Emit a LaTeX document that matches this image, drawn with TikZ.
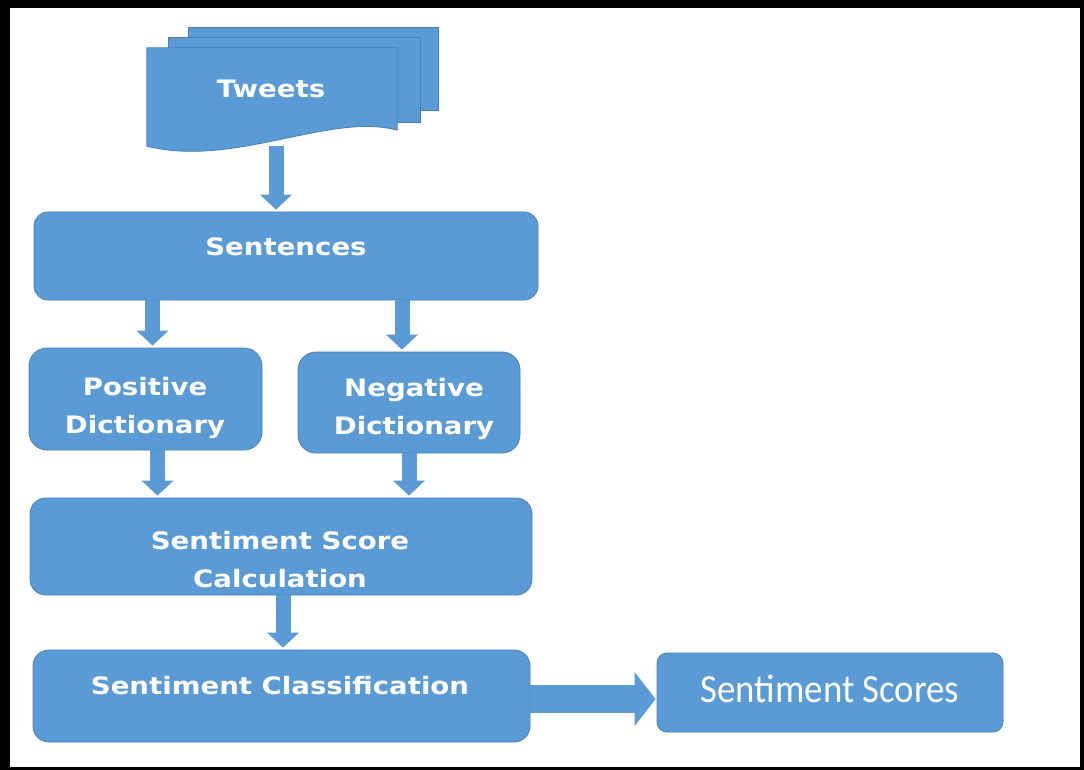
\documentclass[tikz,border=0pt]{standalone}
\usepackage{fontspec}
\usetikzlibrary{arrows.meta}
\newfontfamily\labelfont{DejaVu Sans}[FakeStretch=1.15]
\newfontfamily\scorefont{Carlito}[FakeStretch=0.92]
\definecolor{boxblue}{HTML}{5B9BD5}
\definecolor{edgeblue}{HTML}{477FB8}

\begin{document}
\begin{tikzpicture}[x=1pt,y=-1pt,
  box/.style={fill=boxblue, draw=edgeblue, line width=0.8pt, inner sep=0pt},
  doc/.style={fill=boxblue, draw=edgeblue, line width=0.8pt},
  txt/.style={text=white, inner sep=0pt, align=center,
    font={\labelfont\bfseries\fontsize{24}{38}\selectfont}},
  flow/.style={draw=boxblue, line width=15pt, shorten >=2pt,
    -{Triangle[width=32pt,length=15pt,line width=0pt]}},
  wideflow/.style={draw=boxblue, line width=28pt, shorten >=1pt,
    -{Triangle[width=54pt,length=21pt,line width=0pt]}},
]
\useasboundingbox (0,0) rectangle (1084,770);
% frame
\fill[black] (0,0) rectangle (1084,770);
\fill[white] (10,8) rectangle (1080,767);

% stacked tweet documents
\filldraw[doc] (188,27) rectangle (438,110);
\filldraw[doc] (168,37) rectangle (420,122);
\node[inner sep=0pt, minimum width=250pt, minimum height=98pt] (tw) at (272,97) {};
\filldraw[doc] (tw.north west) -- (tw.north east) -- ([yshift=16pt]tw.south east)
  .. controls (330,112) and (235,168) .. (tw.south west) -- cycle;
\node[txt] (tw-t) at (271,88.5) {Tweets};

% process boxes
\node[box, rounded corners=14pt, minimum width=504pt, minimum height=88pt] (sent) at (286,256) {};
\node[txt] (sent-t) at (286,246.5) {Sentences};

\node[box, rounded corners=18pt, minimum width=233pt, minimum height=102pt] (pos) at (145.5,399) {};
\node[txt] (pos-t) at (145,408) {Positive\\Dictionary};

\node[box, rounded corners=18pt, minimum width=222pt, minimum height=101pt] (neg) at (409,402.5) {};
\node[txt] (neg-t) at (414,409) {Negative\\Dictionary};

\node[box, rounded corners=16pt, minimum width=502pt, minimum height=97pt] (score) at (281,546.5) {};
\node[txt] (score-t) at (280,560) {Sentiment Score\\Calculation};

\node[box, rounded corners=16pt, minimum width=497pt, minimum height=92pt] (class) at (281.5,696) {};
\node[txt] (class-t) at (280,686) {Sentiment Classification};

\node[box, rounded corners=10pt, minimum width=346pt, minimum height=79pt] (scores) at (830,692.5) {};
\node[text=white, inner sep=0pt, font={\scorefont\fontsize{40}{48}\selectfont}] (scores-t) at (830,689) {Sentiment Scores};

% block arrows
\draw[flow] ([xshift=4pt]tw.south) -- ([xshift=4pt]tw.south |- sent.north);
\draw[flow] ([xshift=7pt]pos.north |- sent.south) -- ([xshift=7pt]pos.north);
\draw[flow] ([xshift=-7pt]neg.north |- sent.south) -- ([xshift=-7pt]neg.north);
\draw[flow] ([xshift=12pt]pos.south) -- ([xshift=12pt]pos.south |- score.north);
\draw[flow] (neg.south) -- (neg.south |- score.north);
\draw[flow] ([xshift=2pt]score.south) -- ([xshift=2pt]score.south |- class.north);
\draw[wideflow] ([yshift=-3pt]class.east) -- ([yshift=-3pt]class.east -| scores.west);
\end{tikzpicture}
\end{document}
